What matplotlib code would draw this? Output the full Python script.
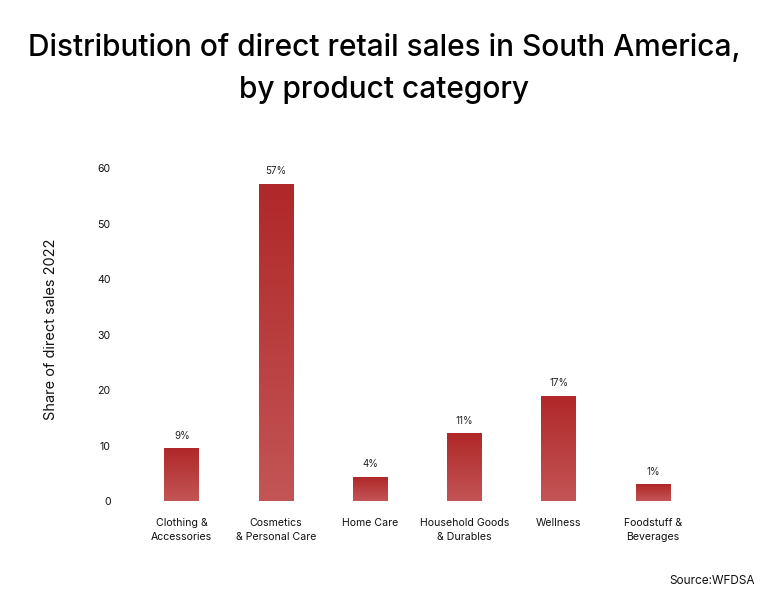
import numpy as np
import matplotlib
matplotlib.use("Agg")
from matplotlib import pyplot as plt

plt.rcParams["font.family"] = ["Inter", "DejaVu Sans"]

categories = ["Clothing &\nAccessories", "Cosmetics\n& Personal Care", "Home Care",
              "Household Goods\n& Durables", "Wellness", "Foodstuff &\nBeverages"]
shares = [9.4, 57, 4.3, 12.1, 18.8, 2.9]
share_labels = ["9%", "57%", "4%", "11%", "17%", "1%"]
y_ticks = [0, 10, 20, 30, 40, 50, 60]

fig = plt.figure(figsize=(7.68, 6.07), dpi=100)
ax = fig.add_axes([130 / 768, 106 / 607, 575 / 768, 344 / 607])

x = np.arange(len(categories))
bars = ax.bar(x, shares, width=0.37, color="none", edgecolor="none")

# vertical gradient, darker at the top
grad = np.linspace(0, 1, 256).reshape(-1, 1)
cmap = matplotlib.colors.LinearSegmentedColormap.from_list("red", ["#C35556", "#B02828"])
for b in bars:
    x0, w, h = b.get_x(), b.get_width(), b.get_height()
    ax.imshow(grad, extent=[x0, x0 + w, 0, h], origin="lower", cmap=cmap,
              aspect="auto", zorder=2)

for b, lab in zip(bars, share_labels):
    ax.annotate(lab, (b.get_x() + b.get_width() / 2, b.get_height()),
                xytext=(0, 6), textcoords="offset points",
                ha="center", va="bottom", fontsize=7, color="#222222")

ax.set_xlim(-0.55, 5.55)
ax.set_ylim(0, 62)
ax.set_xticks(x)
ax.set_xticklabels(categories, fontsize=7.6, color="#111111", linespacing=1.5)
ax.set_yticks(y_ticks)
ax.set_yticklabels([str(t) for t in y_ticks], fontsize=7.6, color="#111111")
ax.tick_params(length=0)
ax.tick_params(axis="y", pad=14)
ax.tick_params(axis="x", pad=12)
for s in ax.spines.values():
    s.set_visible(False)

ax.set_ylabel("Share of direct sales 2022", fontsize=10.5, color="#111111", labelpad=28)

fig.text(0.5, 1 - 47 / 607, "Distribution of direct retail sales in South America,",
         ha="center", va="center", fontsize=21.5, fontweight="medium", color="#000000")
fig.text(0.5, 1 - 90 / 607, "by product category",
         ha="center", va="center", fontsize=21.5, fontweight="medium", color="#000000")
fig.text(755 / 768, 1 - 581 / 607, "Source:WFDSA", ha="right", va="center",
         fontsize=8.5, color="#111111")

fig.savefig("out.png", dpi=100)
